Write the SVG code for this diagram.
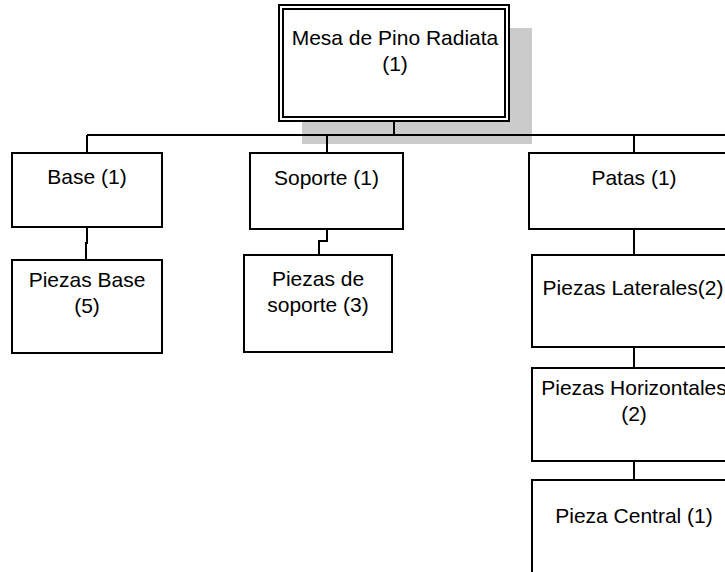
<svg xmlns="http://www.w3.org/2000/svg" width="725" height="572" viewBox="0 0 725 572">
<style>
.box{fill:#fff;stroke:#000;stroke-width:2}
.shadow{fill:#cbcbcb}
.lbl{font-family:"Liberation Sans",Arial,sans-serif;font-size:21px;fill:#000;text-anchor:middle}
.conn{fill:none;stroke:#000;stroke-width:2}
</style>
<rect width="725" height="572" fill="#fff"/>
<g id="mesa">
<rect class="shadow" x="302" y="28" width="230" height="116"/>
<rect class="box" x="279" y="5" width="230" height="116"/>
<rect class="box" x="283" y="9" width="222" height="108"/>
<text class="lbl" x="395" y="45">Mesa de Pino Radiata</text>
<text class="lbl" x="395" y="71">(1)</text>
</g>
<g id="connectors">
<path class="conn" d="M394,121 V135 M87,135 H725 M87,135 V153 M327,135 V153 M634,135 V153"/>
<path class="conn" d="M87,227 V243 H86 V260"/>
<path class="conn" d="M327,229 V241 H319 V255"/>
<path class="conn" d="M634,229 V255 M634,347 V368 M634,461 V480"/>
</g>
<g id="base">
<rect class="box" x="12" y="153" width="150" height="74"/>
<text class="lbl" x="87" y="184">Base (1)</text>
</g>
<g id="soporte">
<rect class="box" x="250" y="153" width="153" height="76"/>
<text class="lbl" x="326.5" y="185">Soporte (1)</text>
</g>
<g id="patas">
<rect class="box" x="529" y="153" width="210" height="76"/>
<text class="lbl" x="634" y="185">Patas (1)</text>
</g>
<g id="piezas-base">
<rect class="box" x="12" y="260" width="150" height="93"/>
<text class="lbl" x="87" y="287">Piezas Base</text>
<text class="lbl" x="87" y="313">(5)</text>
</g>
<g id="piezas-soporte">
<rect class="box" x="244" y="255" width="148" height="97"/>
<text class="lbl" x="318" y="286">Piezas de</text>
<text class="lbl" x="318" y="312">soporte (3)</text>
</g>
<g id="piezas-laterales">
<rect class="box" x="532" y="255" width="204" height="92"/>
<text class="lbl" x="633" y="295">Piezas Laterales(2)</text>
</g>
<g id="piezas-horizontales">
<rect class="box" x="532" y="368" width="204" height="93"/>
<text class="lbl" x="634" y="395">Piezas Horizontales</text>
<text class="lbl" x="634" y="421">(2)</text>
</g>
<g id="pieza-central">
<rect class="box" x="532" y="480" width="204" height="100"/>
<text class="lbl" x="634" y="523">Pieza Central (1)</text>
</g>
</svg>
